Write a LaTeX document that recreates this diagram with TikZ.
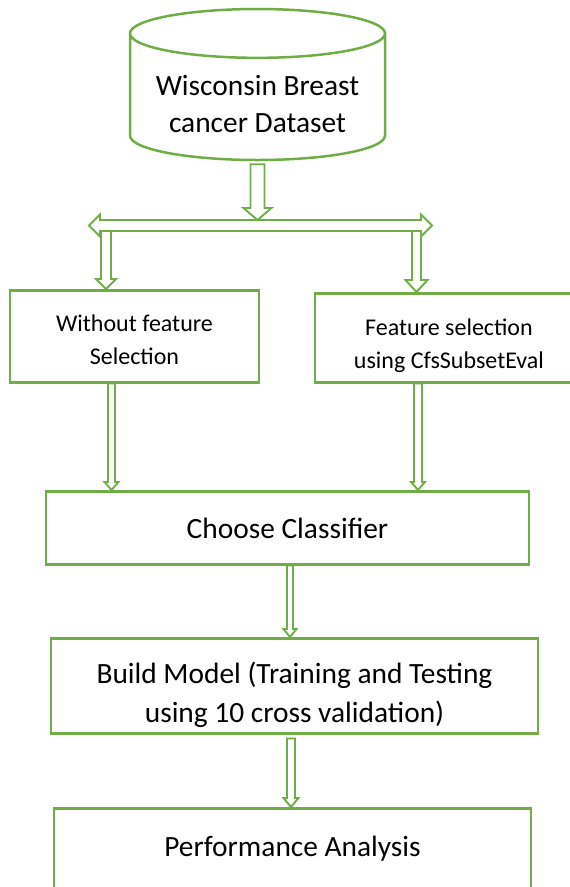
\documentclass[tikz,border=0pt]{standalone}
\usepackage{fontspec}
\setmainfont{Carlito}
\usetikzlibrary{shapes.geometric,calc}
\definecolor{leaf}{HTML}{70AD47}

% outlined block arrow pointing down: start, target, shaft half width, head half width, head length
\newcommand{\hollowdown}[5]{%
  \draw[blk] let \p1=#1, \p2=#2 in
    (\x1-#3pt,\y1) -- (\x1-#3pt,\y2+#5pt) -- (\x1-#4pt,\y2+#5pt) -- (\x1,\y2)
    -- (\x1+#4pt,\y2+#5pt) -- (\x1+#3pt,\y2+#5pt) -- (\x1+#3pt,\y1) -- cycle;}
\newcommand{\bigtxt}{\fontsize{29.4}{39}\selectfont}
\newcommand{\dbtxt}{\fontsize{29.4}{37}\selectfont}
\newcommand{\smalltxt}{\fontsize{24}{33}\selectfont}

\begin{document}
\begin{tikzpicture}[
    x=1pt, y=-1pt,
    box/.style={draw=leaf, line width=2.5pt, align=center, inner sep=0pt, font=\bigtxt, anchor=north},
    side/.style={box, font=\smalltxt},
    db/.style={cylinder, shape border rotate=90, draw=leaf, line width=2.5pt, align=center, inner sep=0pt,
               aspect=0.24, minimum width=255pt, minimum height=151pt, font=\dbtxt, anchor=shape center},
    blk/.style={draw=leaf, line width=1.9pt, fill=white, line join=miter}
]
    \useasboundingbox (0,0) rectangle (570,887);
    \clip (0,0) rectangle (570,887);

    % --- Data source ---
    \node[db, text height=71pt, text depth=0pt] (ds) at (257.5,84.5) {Wisconsin Breast\\cancer Dataset};

    % --- Two branches ---
    \node[side, minimum width=249pt, text height=74pt, text depth=18pt] (wofs) at (134.5,289) {Without feature\\Selection};
    \node[side, minimum width=268pt, text height=75pt, text depth=14pt] (cfs) at (449,292) {Feature selection\\using CfsSubsetEval};

    % --- Pipeline ---
    \node[box, minimum width=483pt, text height=47pt, text depth=26pt] (choose) at (287.5,490) {Choose Classifier};
    \node[box, minimum width=487pt, text height=84pt, text depth=11pt] (build) at (294.5,637) {Build Model (Training and Testing\\using 10 cross validation)};
    \node[box, minimum width=477pt, text height=48pt, text depth=60pt] (perf) at (292.5,807) {Performance Analysis};

    % --- Split bar ---
    \coordinate (fork) at (257,225.5);
    \draw[blk] let \p1=(fork) in
        (\x1-168pt,\y1) -- (\x1-157pt,\y1+11pt) -- (\x1-157pt,\y1+5.5pt) -- (\x1+164pt,\y1+5.5pt)
        -- (\x1+164pt,\y1+11pt) -- (\x1+175pt,\y1) -- (\x1+164pt,\y1-11pt) -- (\x1+164pt,\y1-5.5pt)
        -- (\x1-157pt,\y1-5.5pt) -- (\x1-157pt,\y1-11pt) -- cycle;

    % --- Arrows ---
    \hollowdown{([yshift=-3pt]ds.south)}{([yshift=5.5pt]fork)}{7}{14}{12}
    \hollowdown{([xshift=-151pt,yshift=-5.5pt]fork)}{(wofs.north)}{5}{10}{10}
    \hollowdown{([xshift=159.5pt,yshift=-5.5pt]fork)}{(cfs.north)}{4.5}{11}{12}
    \hollowdown{([xshift=-23pt]wofs.south)}{(choose.north)}{3.5}{7}{8}
    \hollowdown{([xshift=-31pt]cfs.south)}{(choose.north)}{4}{7}{8}
    \hollowdown{([xshift=2.5pt]choose.south)}{(build.north)}{3}{6.5}{8}
    \hollowdown{([xshift=-3.5pt,yshift=-4pt]build.south)}{(perf.north)}{4}{7.5}{9}
\end{tikzpicture}
\end{document}
